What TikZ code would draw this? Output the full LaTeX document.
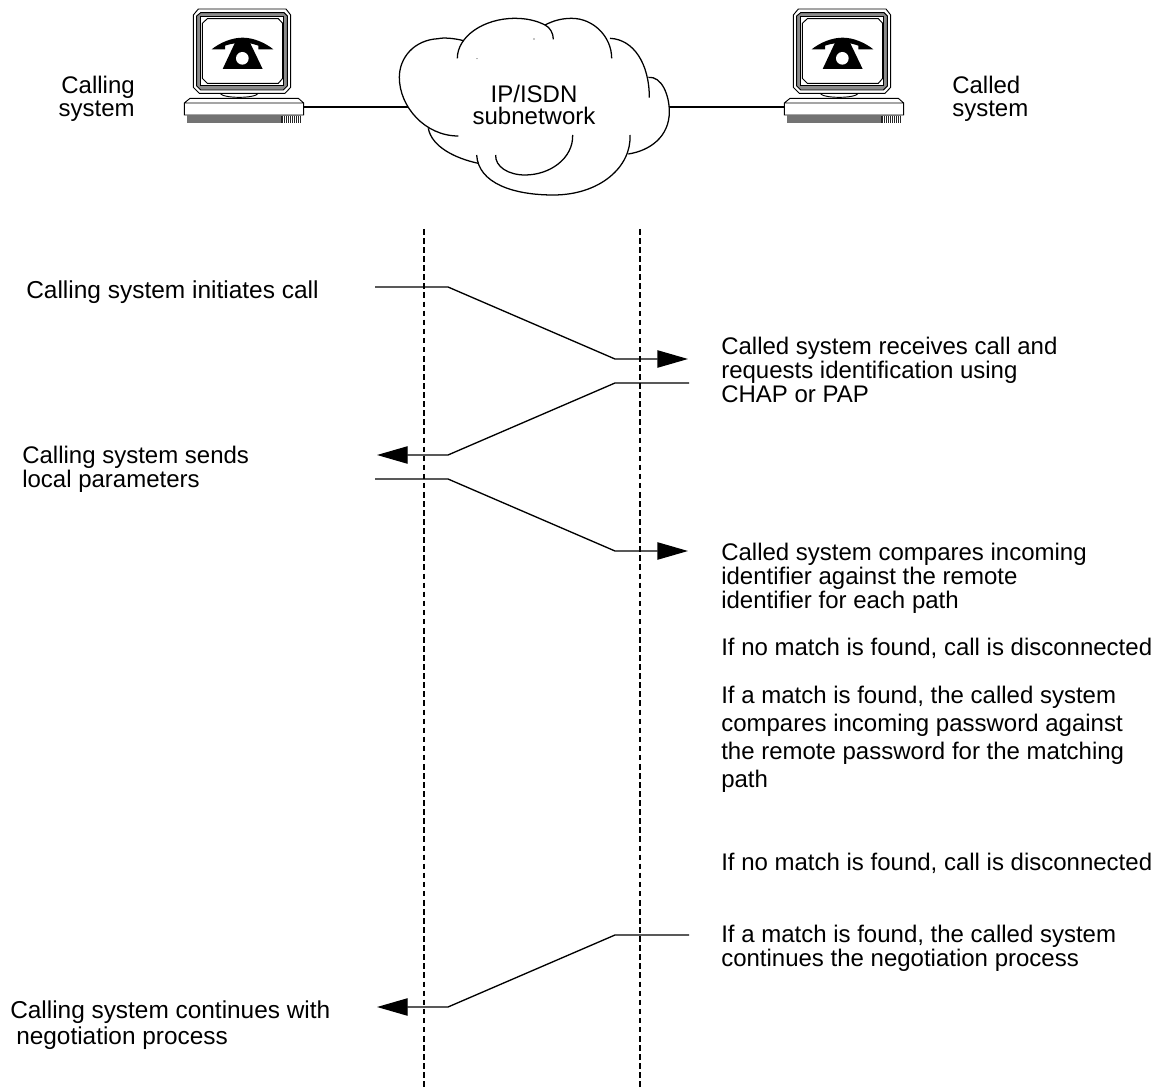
\documentclass[tikz,border=0pt]{standalone}
\usepackage{fontspec}
\setmainfont{Liberation Sans}
\usetikzlibrary{arrows.meta}
\tikzset{
  x=0.75pt,y=-0.75pt,
  wire/.style={line width=1pt,line join=miter},
  flow/.style={wire,-{Triangle[length=23pt,width=13pt]}},
  life/.style={line width=0.9pt,dash pattern=on 4.2pt off 2.6pt},
  label/.style={inner sep=0pt,align=left,anchor=west,font=\fontsize{18pt}{18pt}\selectfont},
  cloudline/.style={line width=0.95pt},
  pics/workstation/.style={code={
    \begin{scope}[x=0.25pt,y=-0.25pt,line width=0.7pt]
      \draw[fill=white] (70,45)--(85,27)--(348,27)--(362,45)--(362,262)--(345,280)--(88,280)--(70,262)--cycle;
      \draw[fill=black!45] (80,48)--(92,38)--(342,38)--(352,48)--(352,258)--(340,270)--(92,270)--(80,258)--cycle;
      \draw[fill=white] (92,50)--(340,50)--(340,257)--(92,257)--cycle;
      \draw (97,70)--(112,56)--(325,56)--(338,70)--(338,235)--(325,250)--(112,250)--(97,235)--cycle;
      \fill (125,148) .. controls (150,128) and (185,113) .. (218,113) .. controls (250,113) and (285,128) .. (310,148) -- (265,148) -- (265,137) .. controls (255,134) and (248,131) .. (240,130) -- (195,130) .. controls (185,131) and (175,134) .. (165,137) -- (165,148) -- cycle;
      \fill (195,128)--(240,128)--(278,207)--(158,207)--cycle;
      \fill[white] (217,175) circle (19);
      \draw (150,280) .. controls (160,296) and (255,296) .. (265,280);
      \draw (43,309)--(60,295)--(385,295)--(401,309)--(401,345)--(43,345)--cycle (43,309)--(401,309);
      \fill[black!55] (52,345) rectangle (393,368);
      \fill[black!85] (333,348) rectangle (392,368);
      \foreach \gx in {338,344,...,390} {\draw[white,line width=0.25pt] (\gx,348)--(\gx,368);}
    \end{scope}
  }},
}
\begin{document}
\begin{tikzpicture}
\useasboundingbox (0,0) rectangle (1167,1087);
% workstations
\pic at (170,0) {workstation};
\pic at (770,0) {workstation};
\coordinate (pcLport) at (304,107);
\coordinate (pcRport) at (784,107);
\coordinate (cloudL) at (408,107);
\coordinate (cloudR) at (669,107);
\draw[wire] (pcLport)--(cloudL);
\draw[wire] (cloudR)--(pcRport);
% cloud
\begin{scope}[shift={(380,0)},x=0.25pt,y=-0.25pt,cloudline]
  \draw (250,122) .. controls (225,115) and (190,112) .. (175,116) .. controls (100,120) and (58,175) .. (58,232) .. controls (58,320) and (135,408) .. (235,408);
  \draw (232,175) .. controls (232,110) and (310,55) .. (405,55) .. controls (440,55) and (470,62) .. (495,75) .. controls (510,82) and (520,100) .. (520,118);
  \draw (495,75) .. controls (520,62) and (545,55) .. (575,55) .. controls (640,55) and (695,110) .. (695,175);
  \draw (690,115) .. controls (760,118) and (808,190) .. (808,293);
  \draw (805,232) .. controls (845,228) and (868,285) .. (868,335) .. controls (868,410) and (810,452) .. (745,462);
  \draw (750,405) .. controls (755,500) and (660,585) .. (520,585) .. controls (400,585) and (295,550) .. (290,465);
  \draw (145,385) .. controls (155,440) and (225,475) .. (295,490);
  \draw (578,405) .. controls (580,475) and (510,525) .. (435,525) .. controls (385,525) and (345,500) .. (347,465);
  \fill (462,117) circle (1.6) (291,176) circle (1.4);
\end{scope}
% labels
\node[label,anchor=center,align=center] (net) at (534,105) {IP/ISDN\\[-1.5pt]subnetwork};
\node[label,anchor=east,align=right,font=\fontsize{18pt}{17.25pt}\selectfont] (calling) at (135,98.5) {Calling\\system};
\node[label,font=\fontsize{18pt}{17.25pt}\selectfont] (called) at (952,98.5) {Called\\system};
% lifelines
\coordinate (lifeLt) at (424,229); \coordinate (lifeLb) at (424,1087);
\coordinate (lifeRt) at (640,229); \coordinate (lifeRb) at (640,1087);
\draw[life] (lifeLt)--(lifeLb);
\draw[life] (lifeRt)--(lifeRb);
% text
\node[label,font=\fontsize{18.35pt}{18pt}\selectfont] (t1) at (26,292) {Calling system initiates call};
\node[label] (t2) at (721,370) {Called system receives call and\\requests identification using\\CHAP or PAP};
\node[label] (t3) at (22,469) {Calling system sends\\local parameters};
\node[label] (t4) at (721,578) {Called system compares incoming\\identifier against the remote\\identifier for each path};
\node[label] (t5) at (721,648) {If no match is found, call is disconnected};
\node[label,font=\fontsize{18pt}{21pt}\selectfont] (t6) at (721,739) {If a match is found, the called system\\compares incoming password against\\the remote password for the matching\\path};
\node[label] (t7) at (721,863) {If no match is found, call is disconnected};
\node[label] (t8) at (721,948) {If a match is found, the called system\\continues the negotiation process};
\node[label,font=\fontsize{18.3pt}{19.5pt}\selectfont] (t9) at (10,1025) {Calling system continues with\\\hspace*{4.5pt}negotiation process};
% flows
\coordinate (a1) at (375,287); \coordinate (a2) at (448,287); \coordinate (a3) at (615,359); \coordinate (a4) at (688,359);
\draw[flow] (a1)--(a2)--(a3)--(a4);
\coordinate (b1) at (689,383); \coordinate (b2) at (615,383); \coordinate (b3) at (448,455); \coordinate (b4) at (377,455);
\draw[flow] (b1)--(b2)--(b3)--(b4);
\coordinate (c1) at (375,479); \coordinate (c2) at (448,479); \coordinate (c3) at (615,551); \coordinate (c4) at (688,551);
\draw[flow] (c1)--(c2)--(c3)--(c4);
\coordinate (d1) at (689,935); \coordinate (d2) at (615,935); \coordinate (d3) at (448,1007); \coordinate (d4) at (377,1007);
\draw[flow] (d1)--(d2)--(d3)--(d4);
\end{tikzpicture}
\end{document}
